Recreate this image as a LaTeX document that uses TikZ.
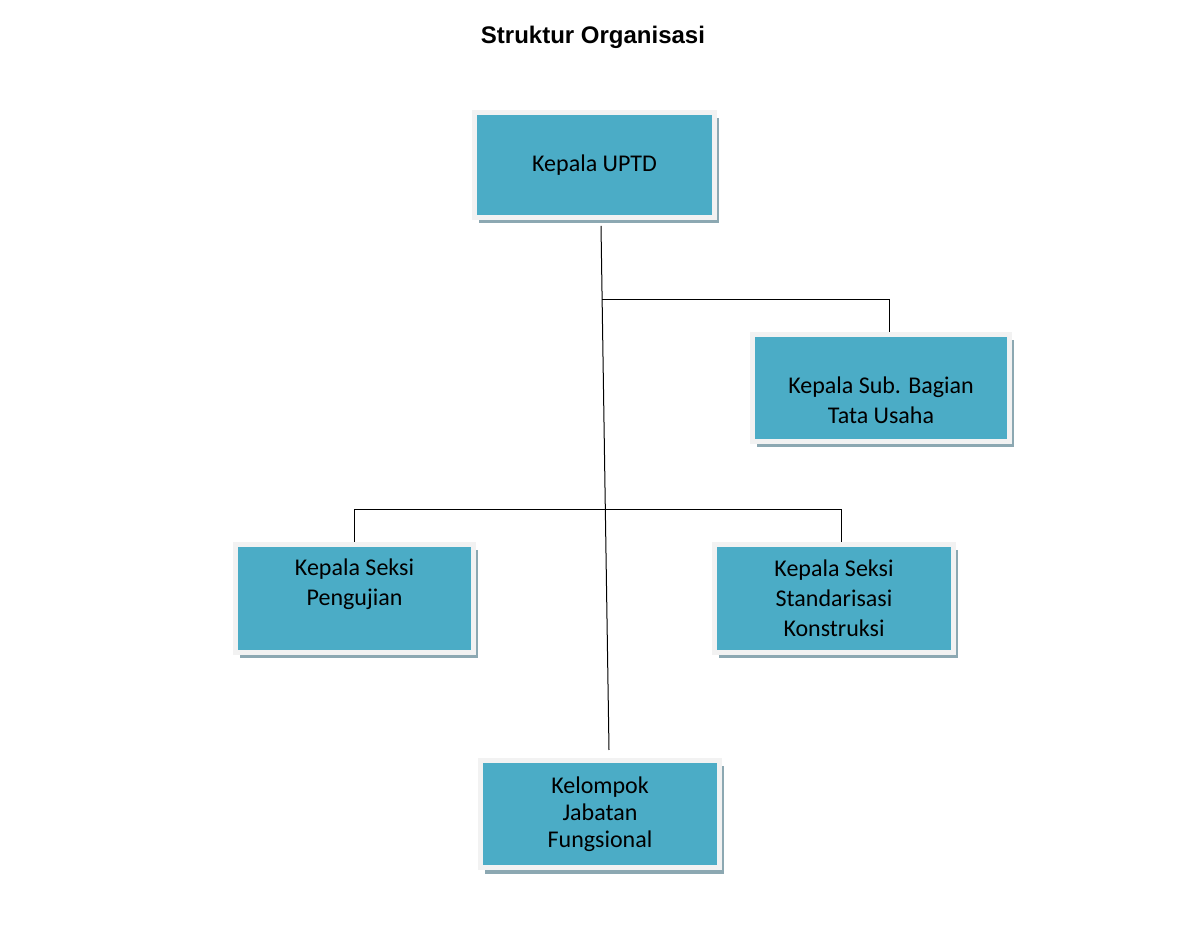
\documentclass[tikz,border=0pt]{standalone}
\usepackage{fontspec}
\setmainfont{Carlito}
\newfontfamily\titlefont{Liberation Sans}
\usetikzlibrary{positioning,shadows,calc}
\definecolor{boxteal}{RGB}{75,172,198}
\definecolor{boxrim}{RGB}{242,242,242}
\definecolor{boxshade}{RGB}{140,168,178}

\begin{document}
\begin{tikzpicture}[x=1pt, y=1pt,
    unit/.style={draw=boxrim, line width=5pt, fill=boxteal, align=center,
      font=\fontsize{24}{30}\selectfont, inner sep=0pt,
      drop shadow={shadow xshift=4pt, shadow yshift=-6pt, fill=boxshade, opacity=1}},
    link/.style={draw=black, line width=1pt}]
  \fill[white] (0,0) rectangle (1186,924);
  \useasboundingbox (0,0) rectangle (1186,924);
  \node[font=\titlefont\bfseries\fontsize{24}{28}\selectfont] (title) at (593,887) {Struktur Organisasi};
  \node[unit, minimum width=240pt, minimum height=105pt] (kepala) at (594.5,759) {Kepala UPTD};
  \node[unit, minimum width=257pt, minimum height=107pt] (tatausaha) at (881,536)
    {\strut\\[-9pt]Kepala Sub. Bagian\\Tata Usaha};
  \node[unit, minimum width=238pt, minimum height=108pt] (pengujian) at (354.5,325.5)
    {Kepala Seksi\\Pengujian\\[-7pt]\strut};
  \node[unit, minimum width=239pt, minimum height=108pt] (standar) at (834,325.5)
    {Kepala Seksi\\Standarisasi\\Konstruksi};
  \node[unit, minimum width=239pt, minimum height=107pt,
    font=\fontsize{24}{27}\selectfont] (fungsional) at (600,110)
    {Kelompok\\Jabatan\\Fungsional};
  % connectors
  \coordinate (top) at ([xshift=6.5pt,yshift=-6pt]kepala.south);
  \coordinate (bottom) at ([xshift=9pt,yshift=8pt]fungsional.north);
  \coordinate (split1) at ($(top)!0.14!(bottom)$);
  \coordinate (split2) at ($(pengujian.north)+(0,32)$);
  \draw[link] (top) -- (bottom);
  \draw[link] (split1) -| ([xshift=8pt]tatausaha.north);
  \draw[link] (pengujian.north) |- (split2) -| ([xshift=7pt]standar.north);
\end{tikzpicture}
\end{document}
